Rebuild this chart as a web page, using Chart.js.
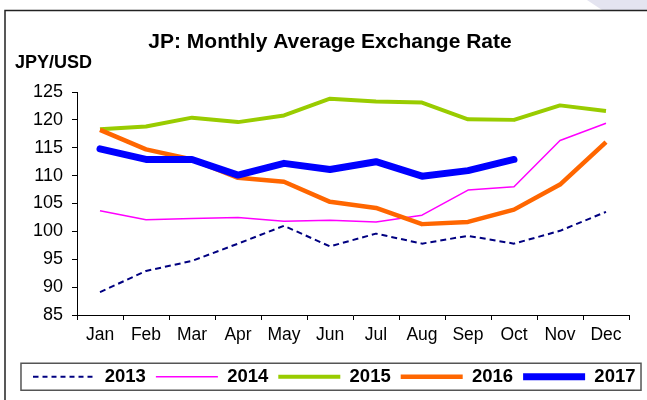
<!DOCTYPE html>
<html>
<head>
<meta charset="utf-8">
<title>JP: Monthly Average Exchange Rate</title>
<script src="https://cdn.jsdelivr.net/npm/chart.js@4/dist/chart.umd.min.js"></script>
<style>
  html, body { margin: 0; padding: 0; background: #fff; }
  #wrap { width: 647px; height: 400px; position: relative; }
</style>
</head>
<body>
<div id="wrap"><canvas id="fxChart"></canvas></div>
<script>
const months = ['Jan', 'Feb', 'Mar', 'Apr', 'May', 'Jun', 'Jul', 'Aug', 'Sep', 'Oct', 'Nov', 'Dec'];

// JPY per USD, monthly averages
const rate2013 = [89.1, 92.9, 94.7, 97.8, 101.0, 97.3, 99.6, 97.8, 99.2, 97.8, 100.1, 103.5];
const rate2014 = [103.7, 102.1, 102.3, 102.5, 101.8, 102.0, 101.7, 102.9, 107.4, 108.0, 116.3, 119.4];
const rate2015 = [118.3, 118.8, 120.4, 119.6, 120.8, 123.8, 123.3, 123.1, 120.1, 120.0, 122.6, 121.6];
const rate2016 = [118.2, 114.7, 112.9, 109.6, 108.9, 105.3, 104.2, 101.3, 101.7, 103.9, 108.4, 116.0];
const rate2017 = [114.8, 112.9, 112.9, 110.1, 112.2, 111.1, 112.5, 109.9, 110.9, 112.9];

const yMin = 85;
const yMax = 125;
const yStep = 5;

const FONT = "'Liberation Sans', Arial, sans-serif";
const SAMPLE_W = 62;

// legend point styles only draw solid lines, so dashed series get a small canvas sample
function dashedSample(color, width, dash) {
    const c = document.createElement('canvas');
    c.width = SAMPLE_W;
    c.height = 6;
    const g = c.getContext('2d');
    g.strokeStyle = color;
    g.lineWidth = width;
    g.setLineDash(dash);
    g.beginPath();
    g.moveTo(0, 3);
    g.lineTo(SAMPLE_W, 3);
    g.stroke();
    return c;
}

// frame, titles and the box around the legend
const decorations = {
    id: 'decorations',
    beforeDraw(chart) {
        const ctx = chart.ctx;
        ctx.save();
        ctx.fillStyle = '#e4e4f0';
        ctx.beginPath();
        ctx.moveTo(587, 0);
        ctx.lineTo(647, 0);
        ctx.lineTo(647, 10);
        ctx.lineTo(602, 10);
        ctx.closePath();
        ctx.fill();

        ctx.strokeStyle = '#222';
        ctx.lineWidth = 1.5;
        ctx.beginPath();
        ctx.moveTo(5, 400);
        ctx.lineTo(5, 10.5);
        ctx.lineTo(647, 10.5);
        ctx.stroke();

        ctx.fillStyle = '#000';
        ctx.textBaseline = 'middle';
        ctx.textAlign = 'center';
        ctx.font = 'bold 21px ' + FONT;
        ctx.fillText('JP: Monthly Average Exchange Rate', 330, 42);
        ctx.textAlign = 'left';
        ctx.font = 'bold 18px ' + FONT;
        ctx.fillText('JPY/USD', 15, 63);
        ctx.restore();
    },
    afterDraw(chart) {
        const boxes = chart.legend.legendHitBoxes;
        if (!boxes || !boxes.length) return;
        const first = boxes[0];
        const last = boxes[boxes.length - 1];
        const ctx = chart.ctx;
        ctx.save();
        ctx.strokeStyle = '#555';
        ctx.lineWidth = 1.5;
        const top = first.top + first.height / 2 - 13.5;
        ctx.strokeRect(first.left - 12.5, top, last.left + last.width - first.left + 18, 27);
        ctx.restore();
    }
};

const ctx = document.getElementById('fxChart').getContext('2d');
const fxChart = new Chart(ctx, {
    type: 'line',
    data: {
        labels: months,
        datasets: [
            { label: '2013', data: rate2013, borderColor: '#000080', borderWidth: 2, borderDash: [6, 4], order: 5 },
            { label: '2014', data: rate2014, borderColor: '#ff00ff', borderWidth: 1.5, order: 4 },
            { label: '2015', data: rate2015, borderColor: '#99cc00', borderWidth: 4, order: 3 },
            { label: '2016', data: rate2016, borderColor: '#ff6600', borderWidth: 4.5, order: 2 },
            { label: '2017', data: rate2017, borderColor: '#0000ff', borderWidth: 7, borderCapStyle: 'round', order: 1 }
        ]
    },
    options: {
        responsive: true,
        maintainAspectRatio: false,
        animation: false,
        events: [],
        layout: {
            padding: { top: 92, left: 22, right: 0, bottom: 4 }
        },
        elements: {
            point: { radius: 0 },
            line: { tension: 0, fill: false, borderJoinStyle: 'round' }
        },
        scales: {
            x: {
                offset: true,
                grid: { offset: true, drawOnChartArea: false, tickLength: 5, color: '#000' },
                border: { color: '#000', width: 1 },
                ticks: { color: '#000', padding: 5, font: { family: FONT, size: 17.5 } },
                afterFit(scale) { scale.height = 42.5; }
            },
            y: {
                min: yMin,
                max: yMax,
                grid: { drawOnChartArea: false, tickLength: 5, color: '#000' },
                border: { color: '#000', width: 1 },
                ticks: { stepSize: yStep, color: '#000', padding: 9, font: { family: FONT, size: 18 } },
                afterFit(scale) { scale.width = 55; }
            },
            // empty right-hand spacer so the plot stops short of the frame
            spacer: {
                type: 'linear',
                position: 'right',
                grid: { display: false },
                border: { display: false },
                ticks: { display: false },
                afterFit(scale) { scale.width = 18; }
            }
        },
        plugins: {
            title: { display: false },
            tooltip: { enabled: false },
            legend: {
                position: 'bottom',
                labels: {
                    usePointStyle: true,
                    pointStyle: 'line',
                    pointStyleWidth: SAMPLE_W,
                    padding: 10,
                    color: '#000',
                    font: { family: FONT, size: 18.5, weight: 'bold' },
                    sort: (a, b) => a.datasetIndex - b.datasetIndex,
                    generateLabels(chart) {
                        const items = Chart.defaults.plugins.legend.labels.generateLabels(chart);
                        items.forEach(item => {
                            const ds = chart.data.datasets[item.datasetIndex];
                            if (ds.borderDash) {
                                item.pointStyle = dashedSample(ds.borderColor, ds.borderWidth, [5, 4]);
                            }
                        });
                        return items;
                    }
                }
            }
        }
    },
    plugins: [decorations]
});
</script>
</body>
</html>
